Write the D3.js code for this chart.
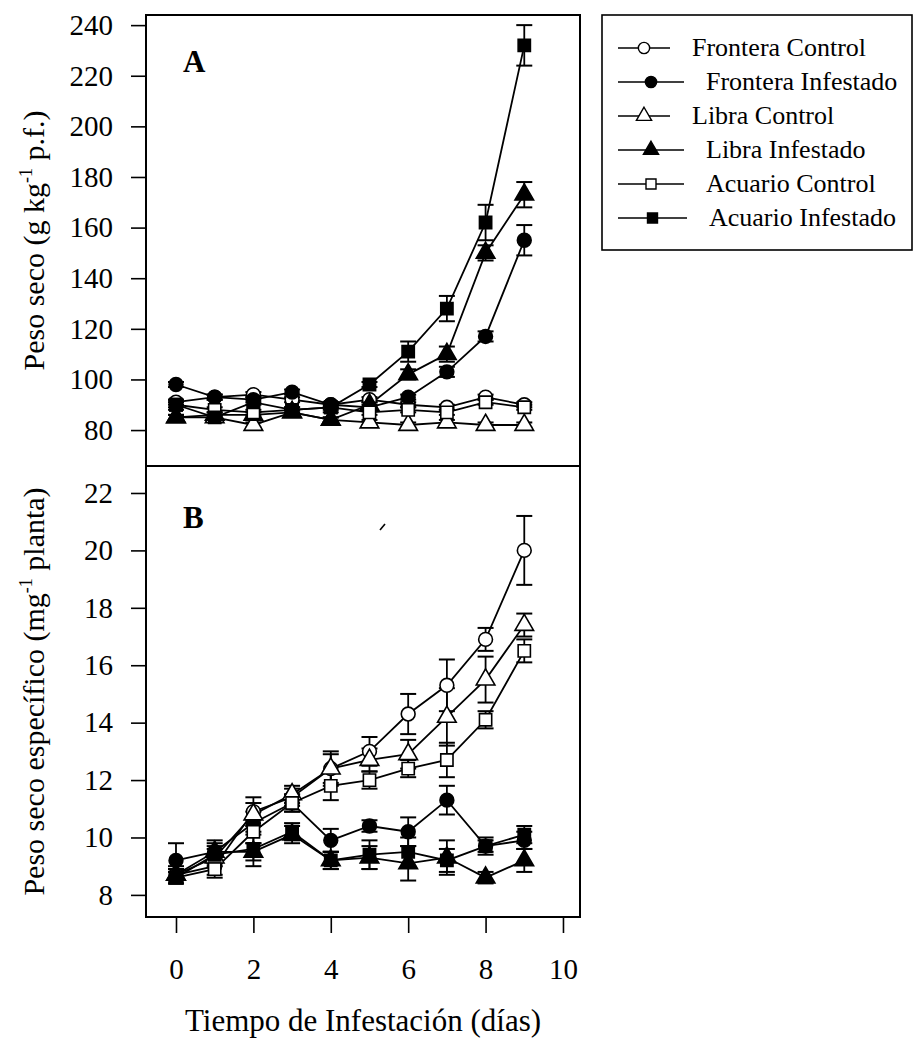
<!DOCTYPE html>
<html lang="es">
<head>
<meta charset="UTF-8">
<title>Peso seco</title>
<script src="https://d3js.org/d3.v7.min.js"></script>
<style>
  body { margin: 0; background: #fff; }
  svg { display: block; font-family: "Liberation Serif", "DejaVu Serif", serif; }
  .tick line { stroke: #000; stroke-width: 1.6; }
</style>
</head>
<body>
<svg id="chart" width="915" height="1038"></svg>
<script>
// days of infestation
var days = [0, 1, 2, 3, 4, 5, 6, 7, 8, 9];
var seriesNames = ["Frontera Control", "Frontera Infestado", "Libra Control",
                   "Libra Infestado", "Acuario Control", "Acuario Infestado"];
var markerShapes = ["circle", "circle", "triangle", "triangle", "square", "square"];
var markerFilled = [false, true, false, true, false, true];

// panel A: Peso seco (g kg-1 p.f.)
var aFronteraControl   = [91, 93, 94, 92, 90, 92, 90, 89, 93, 90];
var aFronteraInfestado = [98, 93, 92, 95, 90, 89, 93, 103, 117, 155];
var aLibraControl      = [85, 85, 82, 87, 84, 83, 82, 83, 82, 82];
var aLibraInfestado    = [85, 86, 86, 87, 84, 90, 102, 110, 150, 173];
var aAcuarioControl    = [90, 88, 87, 88, 89, 87, 88, 87, 91, 89];
var aAcuarioInfestado  = [90, 85, 91, 88, 89, 98, 111, 128, 162, 232];
var aErr = [
  [1, 1, 1, 1, 1, 1, 1, 1, 1, 1],
  [1, 1, 1, 1, 1, 1, 1, 2, 2, 6],
  [1, 1, 1, 1, 1, 1, 1, 1, 1, 1],
  [1, 1, 1, 1, 1, 1, 2, 3, 3, 5],
  [1, 1, 1, 1, 1, 1, 1, 1, 1, 1],
  [2, 1, 1, 1, 2, 1, 4, 5, 7, 8]
];

// panel B: Peso seco especifico (mg-1 planta)
var bFronteraControl   = [8.7, 9.0, 10.9, 11.4, 12.4, 13.0, 14.3, 15.3, 16.9, 20.0];
var bFronteraInfestado = [9.2, 9.5, 10.5, 11.2, 9.9, 10.4, 10.2, 11.3, 9.7, 9.9];
var bLibraControl      = [8.7, 9.3, 10.8, 11.5, 12.4, 12.7, 12.9, 14.2, 15.5, 17.4];
var bLibraInfestado    = [8.7, 9.5, 9.5, 10.1, 9.2, 9.3, 9.1, 9.3, 8.6, 9.2];
var bAcuarioControl    = [8.6, 8.9, 10.2, 11.2, 11.8, 12.0, 12.4, 12.7, 14.1, 16.5];
var bAcuarioInfestado  = [8.6, 9.4, 9.6, 10.2, 9.2, 9.4, 9.5, 9.2, 9.7, 10.1];
var bErr = [
  [0.3, 0.3, 0.5, 0.3, 0.6, 0.5, 0.7, 0.9, 0.4, 1.2],
  [0.6, 0.4, 0.4, 0.3, 0.4, 0.2, 0.5, 0.5, 0.2, 0.3],
  [0.2, 0.3, 0.4, 0.3, 0.5, 0.4, 0.5, 1.0, 0.8, 0.4],
  [0.2, 0.3, 0.3, 0.3, 0.3, 0.4, 0.6, 0.6, 0.2, 0.4],
  [0.2, 0.3, 0.4, 0.3, 0.5, 0.3, 0.3, 0.6, 0.3, 0.4],
  [0.2, 0.3, 0.6, 0.3, 0.3, 0.5, 0.5, 0.4, 0.3, 0.3]
];

var ticksA = [80, 100, 120, 140, 160, 180, 200, 220, 240];
var ticksB = [8, 10, 12, 14, 16, 18, 20, 22];
var ticksX = [0, 2, 4, 6, 8, 10];

var aValues = [aFronteraControl, aFronteraInfestado, aLibraControl, aLibraInfestado, aAcuarioControl, aAcuarioInfestado];
var bValues = [bFronteraControl, bFronteraInfestado, bLibraControl, bLibraInfestado, bAcuarioControl, bAcuarioInfestado];

var svg = d3.select("#chart");
var left = 146, right = 580, topA = 15, mid = 466, bottom = 917;
var serif = "'Liberation Serif', 'DejaVu Serif', serif";

var x = d3.scaleLinear().domain([-0.775, 10.44]).range([left, right]);
var yA = d3.scaleLinear().domain([65.8, 244]).range([mid, topA]);
var yB = d3.scaleLinear().domain([7.23, 22.94]).range([bottom, mid]);

function symbolFor(shape) {
  if (shape === "circle") return d3.symbolCircle;
  if (shape === "square") return d3.symbolSquare;
  return d3.symbolTriangle;
}

function styleAxis(ax) {
  ax.select(".domain").remove();
  ax.attr("font-family", null).attr("font-size", null);
  ax.selectAll("text").style("font-family", serif).style("font-size", "29px").attr("fill", "#000");
}

function drawPanel(values, errs, y, ticks) {
  var g = svg.append("g");
  var line = d3.line().x(function(d, i) { return x(days[i]); }).y(function(d) { return y(d); });

  values.forEach(function(vals) {
    g.append("path").attr("d", line(vals))
      .attr("fill", "none").attr("stroke", "#000").attr("stroke-width", 1.8);
  });

  values.forEach(function(vals, s) {
    vals.forEach(function(v, i) {
      var e = errs[s][i], cx = x(days[i]);
      g.append("line").attr("x1", cx).attr("x2", cx)
        .attr("y1", y(v - e)).attr("y2", y(v + e))
        .attr("stroke", "#000").attr("stroke-width", 1.8);
      [v - e, v + e].forEach(function(w) {
        g.append("line").attr("x1", cx - 8).attr("x2", cx + 8)
          .attr("y1", y(w)).attr("y2", y(w))
          .attr("stroke", "#000").attr("stroke-width", 2);
      });
    });
  });

  values.forEach(function(vals, s) {
    g.selectAll(null).data(vals).enter().append("path")
      .attr("d", d3.symbol().type(symbolFor(markerShapes[s])).size(150)())
      .attr("transform", function(d, i) { return "translate(" + x(days[i]) + "," + y(d) + ")"; })
      .attr("fill", markerFilled[s] ? "#000" : "#fff")
      .attr("stroke", "#000").attr("stroke-width", 1.6);
  });

  var ax = svg.append("g").attr("transform", "translate(" + left + ",0)")
    .call(d3.axisLeft(y).tickValues(ticks).tickSize(15).tickPadding(18));
  styleAxis(ax);
}

drawPanel(aValues, aErr, yA, ticksA);
drawPanel(bValues, bErr, yB, ticksB);

// frames
svg.append("rect").attr("x", left).attr("y", topA).attr("width", right - left).attr("height", mid - topA)
  .attr("fill", "none").attr("stroke", "#000").attr("stroke-width", 2);
svg.append("rect").attr("x", left).attr("y", mid).attr("width", right - left).attr("height", bottom - mid)
  .attr("fill", "none").attr("stroke", "#000").attr("stroke-width", 2);

var xa = svg.append("g").attr("transform", "translate(0," + bottom + ")")
  .call(d3.axisBottom(x).tickValues(ticksX).tickSize(16).tickPadding(25));
styleAxis(xa);

// panel letters
svg.append("text").attr("x", 183).attr("y", 72).attr("font-size", 31).attr("font-weight", "bold").text("A");
svg.append("text").attr("x", 183).attr("y", 528).attr("font-size", 31).attr("font-weight", "bold").text("B");
svg.append("line").attr("x1", 380).attr("y1", 530).attr("x2", 385).attr("y2", 524)
  .attr("stroke", "#000").attr("stroke-width", 1.6);

// axis titles
var tA = svg.append("text").attr("transform", "translate(44," + ((topA + mid) / 2) + ") rotate(-90)")
  .attr("text-anchor", "middle").attr("font-size", 30);
tA.append("tspan").text("Peso seco (g kg");
tA.append("tspan").attr("font-size", 18).attr("dy", -12).text("-1");
tA.append("tspan").attr("dy", 12).text(" p.f.)");

var tB = svg.append("text").attr("transform", "translate(44," + ((mid + bottom) / 2) + ") rotate(-90)")
  .attr("text-anchor", "middle").attr("font-size", 30);
tB.append("tspan").text("Peso seco específico (mg");
tB.append("tspan").attr("font-size", 18).attr("dy", -12).text("-1");
tB.append("tspan").attr("dy", 12).text(" planta)");

svg.append("text").attr("x", (left + right) / 2).attr("y", 1031).attr("text-anchor", "middle")
  .attr("font-size", 31).text("Tiempo de Infestación (días)");

// legend
var lg = svg.append("g");
lg.append("rect").attr("x", 602).attr("y", 15).attr("width", 310).attr("height", 235)
  .attr("fill", "#fff").attr("stroke", "#000").attr("stroke-width", 1.6);
var legendIndent = [0, 14, 0, 14, 14, 17];
seriesNames.forEach(function(name, s) {
  var cy = 48 + s * 34;
  var lineEnd = 670 + legendIndent[s];
  lg.append("line").attr("x1", 618).attr("x2", lineEnd).attr("y1", cy).attr("y2", cy)
    .attr("stroke", "#000").attr("stroke-width", 1.6);
  lg.append("path").attr("d", d3.symbol().type(symbolFor(markerShapes[s])).size(100)())
    .attr("transform", "translate(" + ((618 + lineEnd) / 2) + "," + cy + ")")
    .attr("fill", markerFilled[s] ? "#000" : "#fff").attr("stroke", "#000").attr("stroke-width", 1.4);
  lg.append("text").attr("x", lineEnd + 22).attr("y", cy + 8).attr("font-size", 26).text(name);
});
</script>
</body>
</html>
